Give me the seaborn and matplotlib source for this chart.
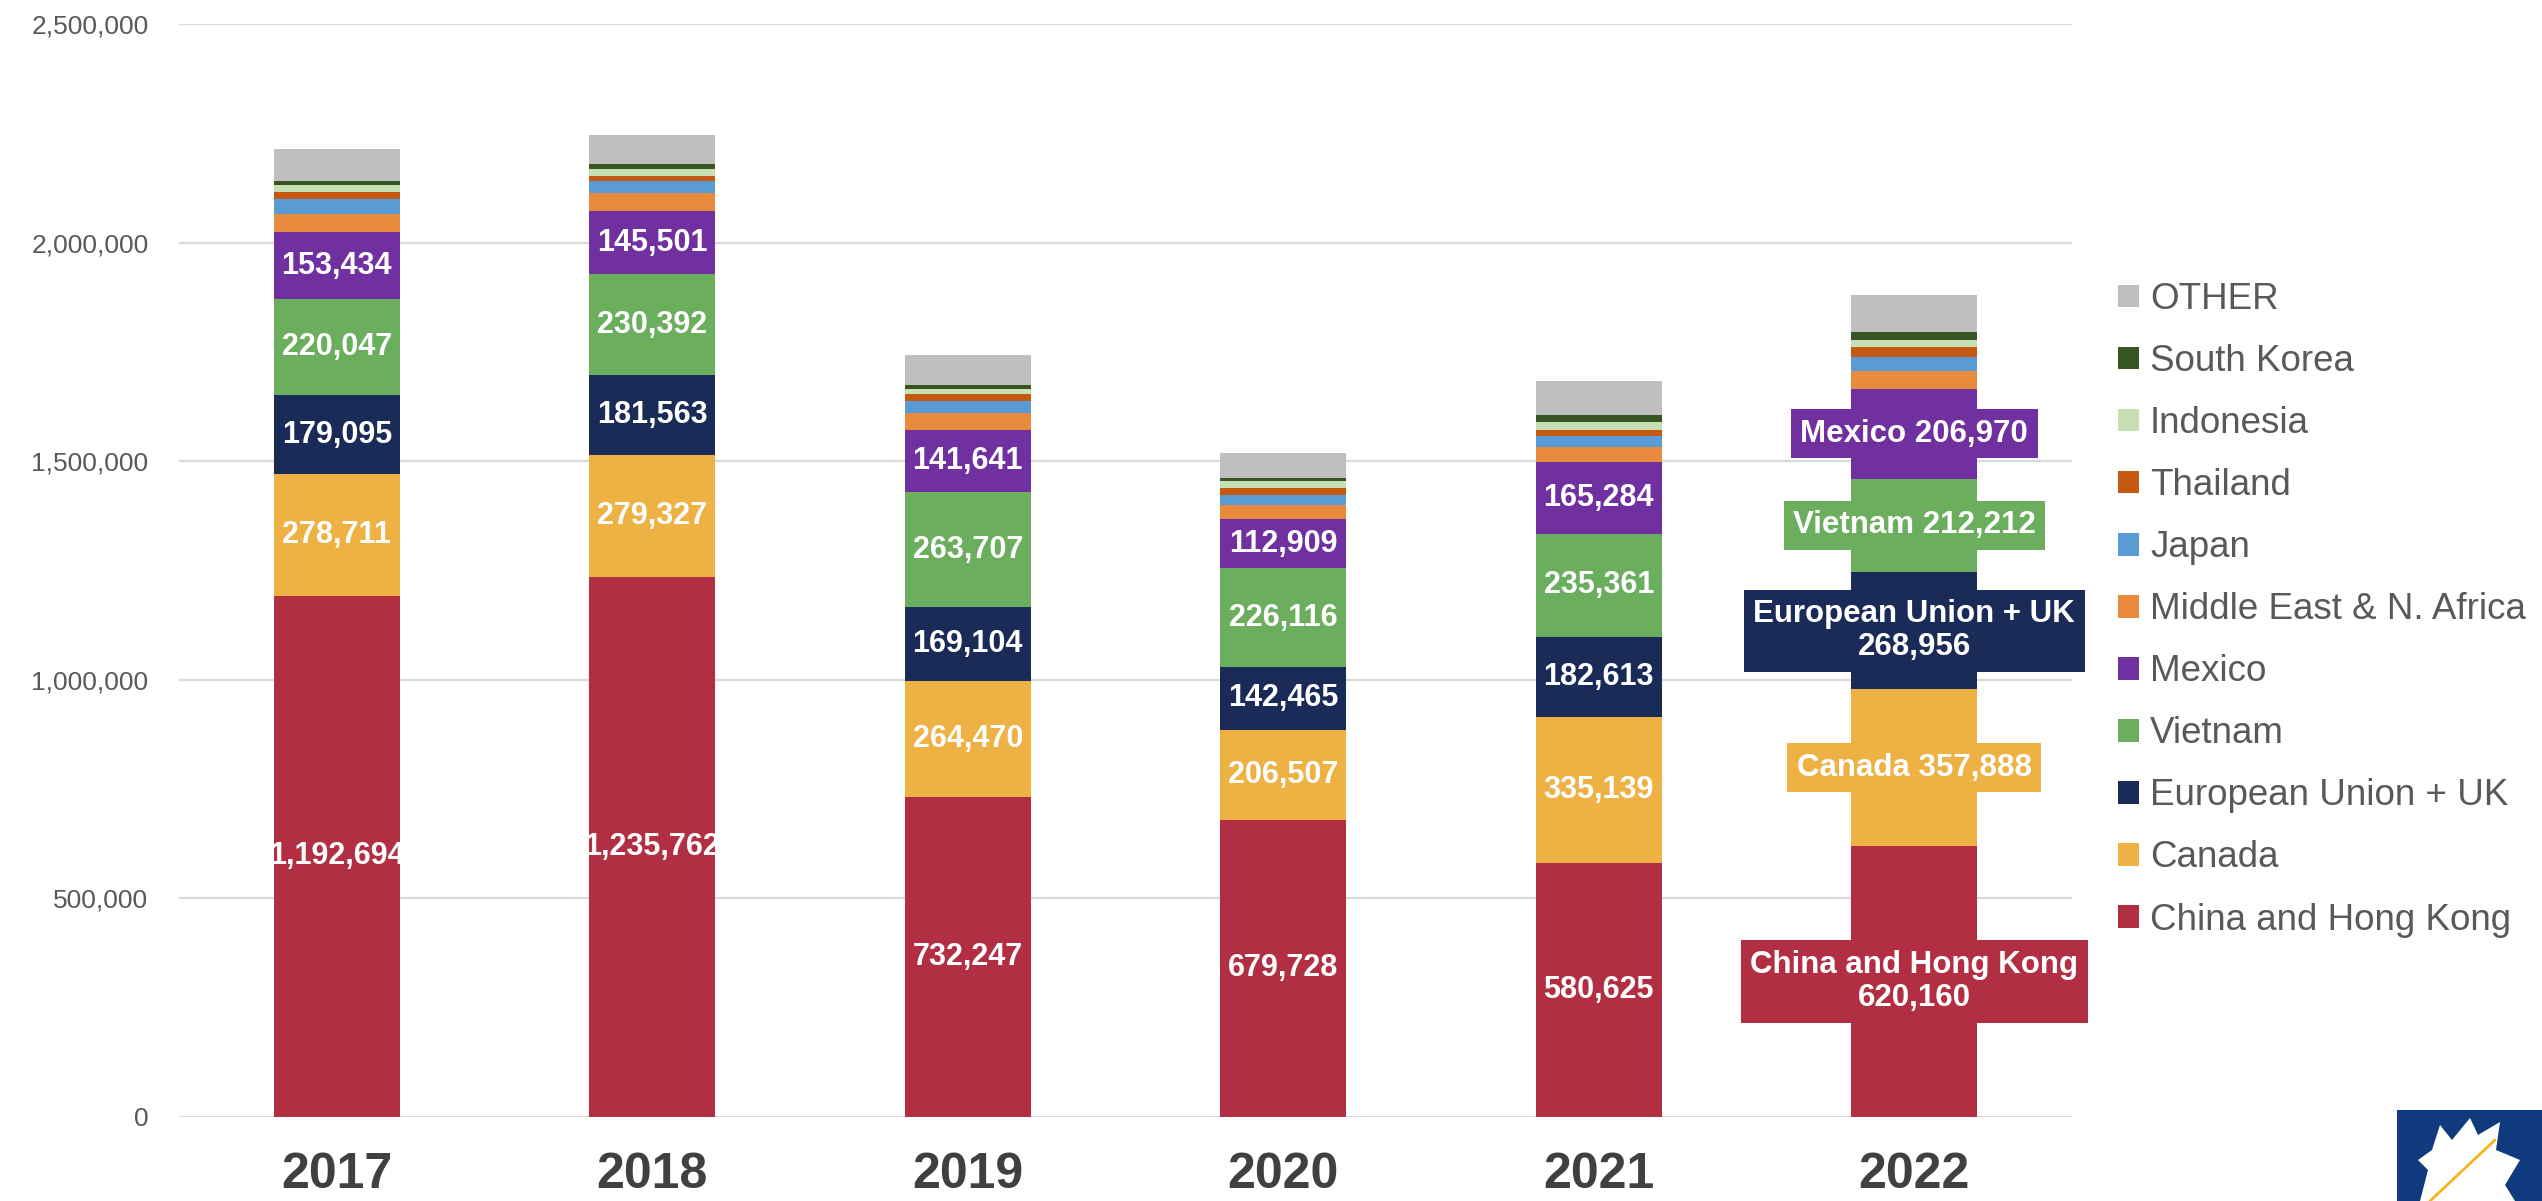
import numpy as np
import pandas as pd
import matplotlib
matplotlib.use("Agg")
import matplotlib.pyplot as plt
import seaborn as sns
from matplotlib.patches import Patch, Rectangle, Polygon
from matplotlib.ticker import FuncFormatter

years = [2017, 2018, 2019, 2020, 2021, 2022]
regions = ["China and Hong Kong", "Canada", "European Union + UK", "Vietnam", "Mexico",
           "Middle East & N. Africa", "Japan", "Thailand", "Indonesia", "South Korea", "OTHER"]
china = [1192694, 1235762, 732247, 679728, 580625, 620160]
canada = [278711, 279327, 264470, 206507, 335139, 357888]
eu_uk = [179095, 181563, 169104, 142465, 182613, 268956]
vietnam = [220047, 230392, 263707, 226116, 235361, 212212]
mexico = [153434, 145501, 141641, 112909, 165284, 206970]
mena = [42000, 42000, 40000, 32000, 34000, 41000]
japan = [33000, 27000, 27000, 24000, 25000, 31000]
thailand = [17000, 10000, 15000, 15000, 13000, 22000]
indonesia = [15000, 17000, 12000, 15000, 19000, 18000]
south_korea = [10000, 11000, 9000, 8000, 15000, 18000]
other = [74000, 67000, 69000, 56000, 78000, 84000]

colors = ["#B22F43", "#EDB243", "#1B2B58", "#6AAE5E", "#7030A0",
          "#E88B3C", "#5B9BD5", "#C65911", "#C6E0B4", "#375623", "#BFBFBF"]

series = [china, canada, eu_uk, vietnam, mexico, mena, japan, thailand,
          indonesia, south_korea, other]
palette = dict(zip(regions, colors))

rows = []
for r, vals in zip(regions, series):
    for y, v in zip(years, vals):
        rows.append({"year": y, "region": r, "value": v})
df = pd.DataFrame(rows)

sns.set_theme(style="white")
plt.rcParams["font.family"] = ["Liberation Sans", "DejaVu Sans"]

fig = plt.figure(figsize=(25.42, 12.01), dpi=100)
ax = fig.add_axes([179 / 2542, 1 - 1117 / 1201, (2072 - 179) / 2542, (1117 - 24) / 1201])

hue_order = regions[::-1]  # first level is drawn on top
sns.histplot(data=df, x="year", weights="value", hue="region", hue_order=hue_order,
             multiple="stack", discrete=True, shrink=0.4, palette=palette,
             alpha=1, linewidth=0, legend=False, ax=ax)

ax.set_xlim(2016.5, 2022.5)
ax.set_ylim(0, 2500000)
ax.set_yticks(np.arange(0, 2500001, 500000))
ax.yaxis.set_major_formatter(FuncFormatter(lambda v, p: f"{int(v):,}"))
ax.set_xticks(years)
ax.set_xticklabels([str(y) for y in years])
ax.set_xlabel("")
ax.set_ylabel("")
for s in ax.spines.values():
    s.set_visible(False)
ax.yaxis.grid(True, color="#D9D9D9", linewidth=1.6)
ax.set_axisbelow(True)
ax.tick_params(axis="y", length=0, pad=22, labelsize=19, labelcolor="#595959")
ax.tick_params(axis="x", length=0, pad=25, labelsize=36, labelcolor="#404040")
for t in ax.get_xticklabels():
    t.set_fontweight("bold")

# value labels
labeled = 5
short_names = ["China and Hong Kong\n", "Canada ", "European Union + UK\n", "Vietnam ", "Mexico "]
for j, yr in enumerate(years):
    bottom = 0
    for k in range(labeled):
        v = series[k][j]
        mid = bottom + v / 2
        if yr != 2022:
            ax.text(yr, mid, f"{v:,}", ha="center", va="center", color="white",
                    fontsize=22, fontweight="bold")
        else:
            ax.text(yr, mid, f"{short_names[k]}{v:,}", ha="center", va="center",
                    color="white", fontsize=22.5, fontweight="bold", linespacing=1.15,
                    bbox=dict(boxstyle="square,pad=0.3", facecolor=colors[k],
                              edgecolor="none"))
        bottom += v

# legend
handles = [Patch(facecolor=palette[r], edgecolor="none") for r in hue_order]
fig.legend(handles, hue_order, loc="upper left",
           bbox_to_anchor=(2118 / 2542, 1 - 282 / 1201), frameon=False,
           fontsize=26.5, labelcolor="#595959", handlelength=0.57, handleheight=0.57,
           handletextpad=0.3, labelspacing=0.735, borderpad=0, borderaxespad=0)

# logo corner
fig.patches.append(Rectangle((2397 / 2542, 0), 145 / 2542, 91 / 1201,
                             transform=fig.transFigure, facecolor="#0F3A7D",
                             edgecolor="none"))
leaf = [(2420, 1201), (2428, 1170), (2418, 1160), (2432, 1150), (2440, 1125),
        (2452, 1140), (2470, 1118), (2478, 1135), (2500, 1122), (2496, 1150),
        (2520, 1160), (2505, 1185), (2515, 1201)]
fig.patches.append(Polygon([(x / 2542, 1 - y / 1201) for x, y in leaf], closed=True,
                           transform=fig.transFigure, facecolor="white",
                           edgecolor="none"))
fig.lines.append(plt.Line2D([2430 / 2542, 2495 / 2542], [1 - 1201 / 1201, 1 - 1140 / 1201],
                            transform=fig.transFigure, color="#F5B323", linewidth=2))

fig.savefig("out.png", dpi=100)
